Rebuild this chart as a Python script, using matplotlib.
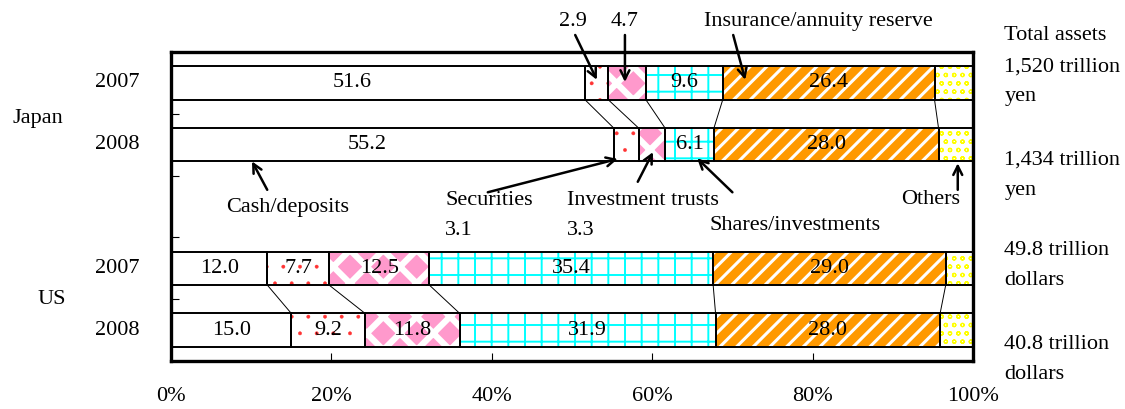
import matplotlib
matplotlib.use('Agg')
import matplotlib.pyplot as plt
import numpy as np

plt.rcParams['font.family'] = ['Liberation Serif', 'DejaVu Serif']

# ---------------- data ----------------
years = ['2007', '2008', '2007', '2008']
countries = ['Japan', 'US']
components = ['Cash/deposits', 'Securities', 'Investment trusts',
              'Shares/investments', 'Insurance/annuity reserve', 'Others']
cash = [51.6, 55.2, 12.0, 15.0]
securities = [2.9, 3.1, 7.7, 9.2]
inv_trusts = [4.7, 3.3, 12.5, 11.8]
shares = [9.6, 6.1, 35.4, 31.9]
insurance = [26.4, 28.0, 29.0, 28.0]
others = [4.8, 4.3, 3.4, 4.1]
totals = ['1,520 trillion\nyen', '1,434 trillion\nyen',
          '49.8 trillion\ndollars', '40.8 trillion\ndollars']
xtick_vals = [0, 20, 40, 60, 80, 100]
xtick_labels = ['0%', '20%', '40%', '60%', '80%', '100%']

series = [cash, securities, inv_trusts, shares, insurance, others]

# ---------------- figure ----------------
fig = plt.figure(figsize=(11.25, 4.09), dpi=100)
ax = fig.add_axes([171/1125, 1-361/409, (973-171)/1125, (361-52)/409])

ypos = [0.5, 1.5, 3.5, 4.5]
h = 0.54
FS = 16
LS = 1.8

# style: facecolor, hatch, hatch colour, hatch linewidth
styles = [
    ('white', None, 'black', 1.0),
    ('white', '.', '#ff3333', 0.3),
    ('#ff99cc', 'x', 'white', 4.5),
    ('white', '+', '#00ffff', 1.4),
    ('#ff9900', '//', 'white', 2.2),
    ('white', 'oo', '#ffff00', 0.9),
]

left = np.zeros(4)
bounds = []
for vals, (fc, hatch, hc, hlw) in zip(series, styles):
    vals = np.array(vals)
    bars = ax.barh(ypos, vals, left=left, height=h, color=fc,
                   edgecolor=hc, hatch=hatch, linewidth=0.3)
    for b in bars:
        try:
            b.set_hatch_linewidth(hlw)
        except AttributeError:
            pass
    ax.barh(ypos, vals, left=left, height=h, fill=False,
            edgecolor='black', linewidth=1.4, zorder=3)
    left = left + vals
    bounds.append(left.copy())

# series lines between 2007 and 2008 bars
for b in bounds[:-1]:
    for i0, i1 in [(0, 1), (2, 3)]:
        ax.plot([b[i0], b[i1]], [ypos[i0] + h/2, ypos[i1] - h/2],
                color='black', lw=0.7, zorder=2)

# value labels
for k, vals in enumerate(series[:-1]):
    start = bounds[k] - np.array(vals)
    for i, v in enumerate(vals):
        if v > 5:
            xc = start[i] + v/2
            if k == 0 and i < 2:
                xc -= 3.2
            ax.text(xc, ypos[i], f'{v:.1f}', ha='center',
                    va='center', fontsize=FS, zorder=5)

ax.set_xlim(0, 100)
ax.set_ylim(5, 0)
ax.set_xticks(xtick_vals)
ax.set_xticklabels(xtick_labels, fontsize=FS)
ax.set_yticks([1, 2, 3, 4])
ax.set_yticklabels([])
ax.tick_params(axis='x', direction='in', length=6, width=0.8, pad=19)
ax.tick_params(axis='y', direction='in', length=6, width=0.8)
for s in ax.spines.values():
    s.set_linewidth(2.4)

# row / country labels
for y, t in zip(ypos, years):
    ax.text(-3.9, y, t, ha='right', va='center', fontsize=FS)
ax.text(-19.8, 1.07, countries[0], ha='left', va='center', fontsize=FS)
ax.text(-16.6, 4.0, countries[1], ha='left', va='center', fontsize=FS)

# totals on the right
ax.text(103.9, -0.275, 'Total assets', ha='left', va='center', fontsize=FS)
for y, t in zip([0.48, 2.0, 3.46, 4.97], totals):
    ax.text(103.9, y, t, ha='left', va='center', fontsize=FS, linespacing=LS)

arrow = dict(arrowstyle='->', color='black', lw=1.8, mutation_scale=16,
             shrinkA=0, shrinkB=0)

def ann(txt, head, tail, textpos, ha='center', va='center'):
    ax.annotate('', xy=head, xytext=tail, arrowprops=arrow,
                annotation_clip=False, zorder=6)
    ax.text(textpos[0], textpos[1], txt, ha=ha, va=va, fontsize=FS,
            linespacing=LS, clip_on=False)

ann(f'{securities[0]:.1f}', (53.1, 0.45), (50.4, -0.275), (50.1, -0.49))
ann(f'{inv_trusts[0]:.1f}', (56.6, 0.485), (56.6, -0.275), (56.6, -0.49))
ann(components[4], (71.6, 0.45), (70.1, -0.275), (80.7, -0.49))
ann(components[0], (10.1, 1.77), (12.0, 2.23), (14.5, 2.52))
ann(f'{components[1]}\n{securities[1]:.1f}', (55.7, 1.73), (39.5, 2.27),
    (34.2, 2.65), ha='left')
ann(f'{components[2]}\n{inv_trusts[1]:.1f}', (60.1, 1.62), (58.2, 2.10),
    (49.4, 2.65), ha='left')
ann(components[3], (65.6, 1.72), (70.0, 2.27), (67.2, 2.80), ha='left')
ann(components[5], (98.1, 1.80), (98.1, 2.23), (98.4, 2.39), ha='right')

fig.savefig('out.png', dpi=100)
